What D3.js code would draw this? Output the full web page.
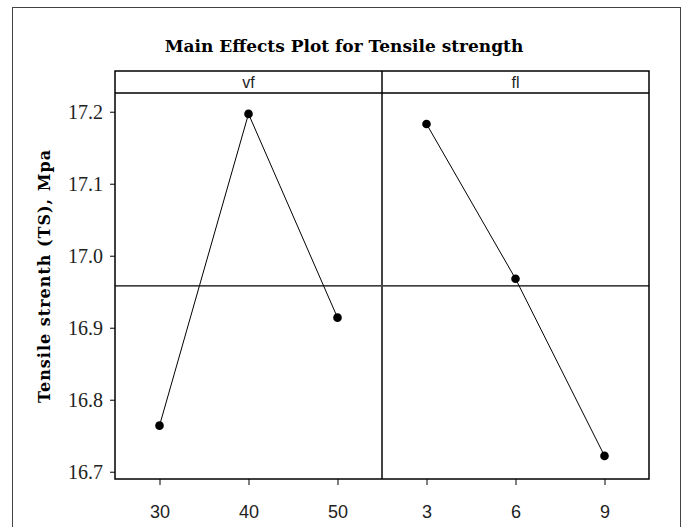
<!DOCTYPE html>
<html>
<head>
<meta charset="utf-8">
<script src="https://cdn.jsdelivr.net/npm/d3@7"></script>
<style>
  body { margin: 0; background: #fff; }
  svg { display: block; }
</style>
</head>
<body>
<svg id="chart" width="685" height="527"></svg>
<script>
// data
const vfLevels = ["30", "40", "50"];
const vfMeans = [16.764, 17.197, 16.914];
const flLevels = ["3", "6", "9"];
const flMeans = [17.183, 16.968, 16.722];
const yTicks = [16.7, 16.8, 16.9, 17.0, 17.1, 17.2];

const panels = [
  { name: "vf", levels: vfLevels, means: vfMeans },
  { name: "fl", levels: flLevels, means: flMeans }
];

const grandMean = d3.mean(vfMeans.concat(flMeans));

const plotLeft = 115, plotRight = 649;
const stripTop = 71, plotTop = 93, plotBottom = 479;
const panelW = (plotRight - plotLeft) / panels.length;

const svg = d3.select("#chart");

// outer frame
svg.append("rect")
  .attr("x", 12.5).attr("y", 7.5)
  .attr("width", 668).attr("height", 540)
  .attr("fill", "none")
  .attr("stroke", "#444")
  .attr("stroke-width", 1);

// title
svg.append("text")
  .attr("x", 344).attr("y", 52)
  .attr("text-anchor", "middle")
  .style("font-family", "'DejaVu Serif', serif")
  .style("font-weight", "bold")
  .style("font-size", "17px")
  .text("Main Effects Plot for Tensile strength");

// y axis label
svg.append("text")
  .attr("transform", "translate(50,276) rotate(-90)")
  .attr("text-anchor", "middle")
  .style("font-family", "'DejaVu Serif', serif")
  .style("font-weight", "bold")
  .style("font-size", "16px")
  .style("letter-spacing", "1px")
  .text("Tensile strenth (TS), Mpa");

const y = d3.scaleLinear()
  .domain([16.6899, 17.226])
  .range([plotBottom, plotTop]);

const yAxis = svg.append("g")
  .attr("transform", `translate(${plotLeft},0)`)
  .call(d3.axisLeft(y).tickValues(yTicks).tickSize(5).tickPadding(7).tickFormat(d3.format(".1f")));
yAxis.select(".domain").remove();
yAxis.selectAll("line").attr("stroke", "#000");
yAxis.selectAll("text")
  .style("font-family", "'Liberation Serif', serif")
  .style("font-size", "20px")
  .attr("fill", "#222");

const line = d3.line();

panels.forEach((p, i) => {
  const x0 = plotLeft + i * panelW;
  const x = d3.scalePoint()
    .domain(p.levels)
    .range([x0, x0 + panelW])
    .padding(0.5);

  const xAxis = svg.append("g")
    .attr("transform", `translate(0,${plotBottom})`)
    .call(d3.axisBottom(x).tickSize(6).tickPadding(20));
  xAxis.select(".domain").remove();
  xAxis.selectAll("line").attr("stroke", "#000");
  xAxis.selectAll("text")
    .style("font-family", "'Liberation Sans', Arial, sans-serif")
    .style("font-size", "18px")
    .attr("fill", "#222");

  // strip label
  svg.append("text")
    .attr("x", x0 + panelW / 2).attr("y", stripTop + 17)
    .attr("text-anchor", "middle")
    .style("font-family", "'Liberation Sans', Arial, sans-serif")
    .style("font-size", "16px")
    .attr("fill", "#222")
    .text(p.name);

  const pts = p.levels.map((lv, j) => [x(lv), y(p.means[j])]);

  svg.append("path")
    .attr("d", line(pts))
    .attr("fill", "none")
    .attr("stroke", "#000")
    .attr("stroke-width", 1);

  svg.selectAll(null)
    .data(pts)
    .join("circle")
    .attr("cx", d => d[0])
    .attr("cy", d => d[1])
    .attr("r", 4.3)
    .attr("fill", "#000");
});

// grand mean reference line
svg.append("line")
  .attr("x1", plotLeft).attr("x2", plotRight)
  .attr("y1", y(grandMean)).attr("y2", y(grandMean))
  .attr("stroke", "#000")
  .attr("stroke-width", 1.3);

// panel divider
svg.append("line")
  .attr("x1", plotLeft + panelW).attr("x2", plotLeft + panelW)
  .attr("y1", stripTop).attr("y2", plotBottom)
  .attr("stroke", "#444")
  .attr("stroke-width", 2);

// strip bottom edge
svg.append("line")
  .attr("x1", plotLeft).attr("x2", plotRight)
  .attr("y1", plotTop).attr("y2", plotTop)
  .attr("stroke", "#000")
  .attr("stroke-width", 1.5);

// frame around strips and panels
svg.append("rect")
  .attr("x", plotLeft).attr("y", stripTop)
  .attr("width", plotRight - plotLeft)
  .attr("height", plotBottom - stripTop)
  .attr("fill", "none")
  .attr("stroke", "#000")
  .attr("stroke-width", 1.5);
</script>
</body>
</html>
